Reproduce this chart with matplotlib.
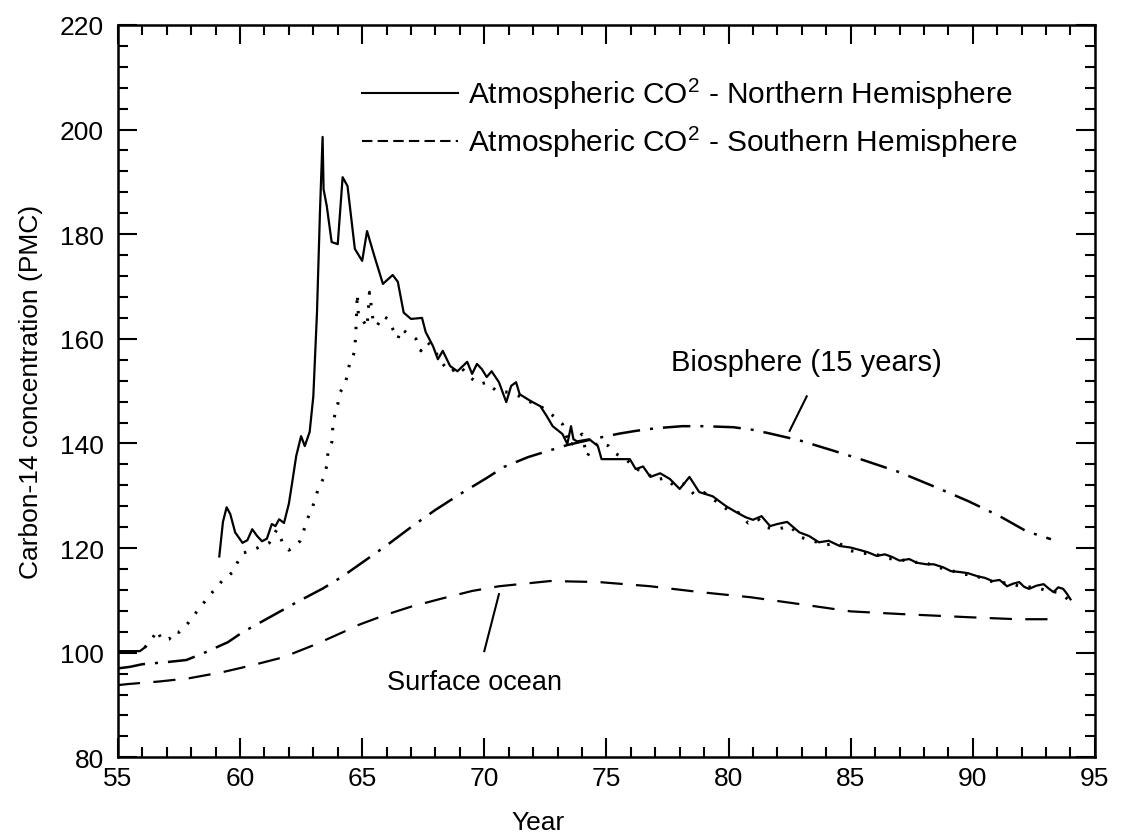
import matplotlib
matplotlib.use("Agg")
import matplotlib.pyplot as plt
from matplotlib.lines import Line2D
from matplotlib.ticker import MultipleLocator

plt.rcParams["font.family"] = ["Liberation Sans", "DejaVu Sans"]
plt.rcParams["mathtext.default"] = "regular"

# Atmospheric CO2, northern hemisphere (solid)
nh_year = [59.15, 59.3, 59.45, 59.6, 59.8, 60.1, 60.3, 60.5, 60.7, 60.9, 61.1, 61.3, 61.45, 61.6,
           61.8, 62.0, 62.15, 62.3, 62.5, 62.65, 62.85, 63.0, 63.15, 63.27, 63.38, 63.42, 63.55,
           63.75, 64.0, 64.2, 64.4, 64.7, 65.0, 65.2, 65.5, 65.85, 66.25, 66.46, 66.7, 67.0, 67.45,
           67.6, 67.9, 68.1, 68.3, 68.6, 68.9, 69.3, 69.5, 69.7, 69.9, 70.1, 70.3, 70.6, 70.9, 71.1,
           71.3, 71.45, 71.9, 72.3, 72.56, 72.8, 73.2, 73.4, 73.55, 73.65, 73.8, 74.3, 74.65, 74.8,
           75.3, 75.96, 76.2, 76.5, 76.8, 77.2, 77.6, 78.0, 78.4, 78.8, 79.35, 79.9, 80.3, 80.7,
           81.0, 81.35, 81.7, 82.0, 82.4, 82.9, 83.3, 83.7, 84.1, 84.55, 85.0, 85.4, 85.7, 86.07,
           86.4, 86.7, 87.0, 87.4, 87.7, 88.1, 88.4, 88.8, 89.1, 89.5, 89.8, 90.2, 90.5, 90.8, 91.1,
           91.4, 91.65, 91.9, 92.1, 92.3, 92.6, 92.9, 93.1, 93.3, 93.5, 93.7, 93.85, 94.0]
nh_pmc = [118.4, 125, 127.8, 126.5, 123, 121, 121.5, 123.6, 122.3, 121.3, 121.8, 124.6, 124.2, 125.5,
          124.8, 128.5, 133, 137.6, 141.4, 139.5, 142.2, 149, 165, 184, 198.6, 188.6, 185.4,
          178.5, 178.1, 190.9, 189.2, 177.2, 174.9, 180.6, 175.8, 170.5, 172.2, 170.9, 165, 163.8, 164,
          161.3, 158.6, 156.1, 157.7, 154.8, 153.8, 155.6, 153.3, 155.2, 154.2, 152.7, 153.8, 151.7, 147.9, 151,
          151.7, 149.4, 148.1, 147.1, 145.2, 143.3, 141.8, 139.9, 143.3, 140.8, 140.4, 140.8, 139.5, 137,
          137, 137, 135.1, 135.6, 133.6, 134.3, 133.2, 131.3, 133.6, 130.7, 129.9, 128, 126.9, 125.9,
          125.4, 126.1, 124.2, 124.6, 125, 123, 122.3, 121.1, 121.4, 120.4, 120.1, 119.6, 119.2, 118.5,
          118.8, 118.3, 117.6, 117.9, 117.2, 116.9, 116.9, 116.3, 115.6, 115.4, 115.2, 114.6, 114.3, 113.7, 113.9,
          112.7, 113.2, 113.5, 112.6, 112.2, 112.8, 113.1, 112.3, 111.6, 112.5, 112.2, 111.3, 110.2]

# Atmospheric CO2, southern hemisphere (dotted)
sh_year = [55.0, 55.5, 55.9, 56.1, 56.4, 56.6, 56.8, 57.1, 57.3, 57.5, 57.9, 58.3, 58.8, 59.26, 59.7,
           59.9, 60.1, 60.5, 60.9, 61.2, 61.5, 61.75, 62.0, 62.2, 62.45, 62.6, 62.75, 62.94, 63.2, 63.4,
           63.55, 63.6, 63.76, 63.8, 63.9, 64.0, 64.1, 64.3, 64.4, 64.5, 64.6, 64.7, 64.75, 64.8, 64.85,
           65.0, 65.2, 65.3, 65.45, 65.6, 65.85, 66.05, 66.25, 66.46, 66.6, 66.9, 67.2, 67.4, 67.65, 67.85,
           68.3, 68.6, 69.0, 69.4, 69.8, 70.1, 70.5, 70.96, 71.45, 71.9, 72.2, 72.56, 72.9, 73.2, 73.5,
           74.0, 74.2, 74.4, 74.7, 75.1, 75.4, 75.8, 76.2, 76.6, 77.0, 77.4, 77.8, 78.2, 78.6, 79.0, 79.5,
           80.0, 80.4, 80.8, 81.2, 81.6, 82.0, 82.5, 83.0, 83.5, 84.0, 84.5, 85.0, 85.5, 86.0, 86.5, 87.0,
           87.5, 88.0, 88.5, 89.0, 89.5, 90.0, 90.5, 91.0, 91.5, 92.0, 92.5, 93.0, 93.5, 93.8, 94.0]
sh_pmc = [100.3, 100.3, 100.3, 101, 102.6, 104.3, 102.4, 102.6, 104.1, 103.9, 105.8, 108.3, 111.2, 113.7, 115.4,
          117.3, 119, 119.6, 120.4, 121, 123.5, 121, 119.6, 120.2, 121.3, 123.2, 125.5, 127.4, 131.3, 133.2,
          135.7, 138.3, 140.3, 143.3, 146, 147.5, 149.8, 151.3, 153.3, 155.6, 156.1, 158, 162.4, 168.6, 164.2,
          163.8, 162.2, 168.9, 163.4, 162.4, 164.4, 163.8, 161.9, 160, 161.9, 160.9, 160, 157.7, 159.4, 158.6,
          155.2, 153.6, 154.8, 152.7, 151.3, 151.7, 150, 149.8, 149, 147.9, 147.5, 146.2, 145, 143.7, 139.5,
          141.8, 137.5, 138.9, 140.3, 139.5, 138, 137, 135.1, 134.6, 133.0, 133.4, 131.8, 132.3, 130.2, 130.6, 128.9,
          127.2, 126.8, 124.8, 125.6, 123.9, 123.6, 124.2, 122.0, 121.3, 120.6, 121.0, 119.5, 119.0, 118.9, 118.0, 117.9,
          117.2, 117.4, 116.3, 116.0, 115.0, 114.9, 114.0, 113.3, 113.4, 112.5, 112.6, 111.9, 111.5, 110.6, 109.7]

# Biosphere, 15 year turnover (dash-dot)
bio_year = [55.0, 55.5, 56.0, 57.0, 57.8, 58.5, 59.5, 60.1, 61.3, 62.3, 63.4, 64.2, 64.9, 66.0, 67.0,
            68.0, 69.0, 70.1, 70.8, 71.8, 72.56, 73.4, 74.6, 75.55, 76.2, 77.0, 78.1, 79.0, 80.2, 81.0,
            81.6, 82.9, 84.3, 85.4, 87.0, 88.5, 89.8, 91.1, 92.2, 93.2]
bio_pmc = [97, 97.3, 97.8, 98.2, 98.6, 99.9, 102, 103.9, 107, 109.6, 112.3, 114.6, 116.9, 120.5, 124,
           127.3, 130.3, 133.4, 135.5, 137.4, 138.5, 139.7, 141.0, 141.9, 142.4, 142.9, 143.3, 143.3, 143.1, 142.6,
           142.0, 140.6, 138.6, 137.0, 134.5, 131.6, 129.0, 126.1, 123.2, 121.7]

# Surface ocean (dashed)
ocean_year = [55.0, 55.4, 56.7, 57.9, 59.3, 60.5, 61.75, 63.1, 64.2, 64.9, 66.0, 67.0, 68.3, 69.5, 70.6,
              72.7, 74.7, 76.8, 78.8, 80.9, 82.9, 85.0, 87.0, 89.75, 91.8, 93.1]
ocean_pmc = [93.8, 94, 94.5, 95.1, 96.3, 97.6, 99.1, 101.6, 103.9, 105.4, 107.3, 108.8, 110.4, 111.8, 112.7,
             113.7, 113.5, 112.7, 111.6, 110.6, 109.3, 107.9, 107.4, 106.8, 106.4, 106.4]

fig = plt.figure(figsize=(11.23, 8.37), dpi=100)
ax = fig.add_axes([0.105, 0.094, 0.870, 0.875])

ax.plot(nh_year, nh_pmc, color="black", lw=1.6, ls="-")
# densely sampled start of the southern record reads as a solid stroke
ax.plot(sh_year[:4], sh_pmc[:4], color="black", lw=1.6, ls="-")
ax.plot(sh_year[3:], sh_pmc[3:], color="black", lw=2.2, ls=(0, (0.8, 3.5)))
ax.plot(bio_year, bio_pmc, color="black", lw=1.8, ls=(0, (11, 4, 1.2, 4)))
ax.plot(ocean_year, ocean_pmc, color="black", lw=1.6, ls=(0, (10, 6)))

ax.set_xlim(55, 95)
ax.set_ylim(80, 220)
ax.xaxis.set_major_locator(MultipleLocator(5))
ax.xaxis.set_minor_locator(MultipleLocator(1))
ax.yaxis.set_major_locator(MultipleLocator(20))
ax.yaxis.set_minor_locator(MultipleLocator(4))
ax.tick_params(which="both", direction="in", top=True, right=True, width=1.5, labelsize=19)
ax.tick_params(axis="x", which="both", pad=6)
ax.tick_params(axis="y", which="both", pad=10)
ax.tick_params(which="major", length=14)
ax.tick_params(which="minor", length=7)
for sp in ax.spines.values():
    sp.set_linewidth(1.8)

ax.set_xlabel("Year", fontsize=19)
ax.xaxis.set_label_coords(0.43, -0.072)
ax.set_ylabel("Carbon-14 concentration (PMC)", fontsize=19, labelpad=12)

# annotations
ax.text(83.2, 155.5, "Biosphere (15 years)", fontsize=21, ha="center", va="center")
ax.plot([83.2, 82.5], [149.0, 142.4], color="black", lw=1.5)
ax.text(69.6, 94.4, "Surface ocean", fontsize=19.5, ha="center", va="center")
ax.plot([70.0, 70.6], [100.3, 111.2], color="black", lw=1.5)

handles = [Line2D([], [], color="black", lw=1.5, ls="-"),
           Line2D([], [], color="black", lw=1.5, ls=(0, (5, 2.5)))]
labels = ["Atmospheric CO$^2$ - Northern Hemisphere",
          "Atmospheric CO$^2$ - Southern Hemisphere"]
ax.legend(handles, labels, loc="upper left", frameon=False, fontsize=21.5,
          handlelength=3.2, handletextpad=0.33, labelspacing=0.42,
          borderpad=0, borderaxespad=0, bbox_to_anchor=(0.25, 0.93))

fig.savefig("out.png", dpi=100)
